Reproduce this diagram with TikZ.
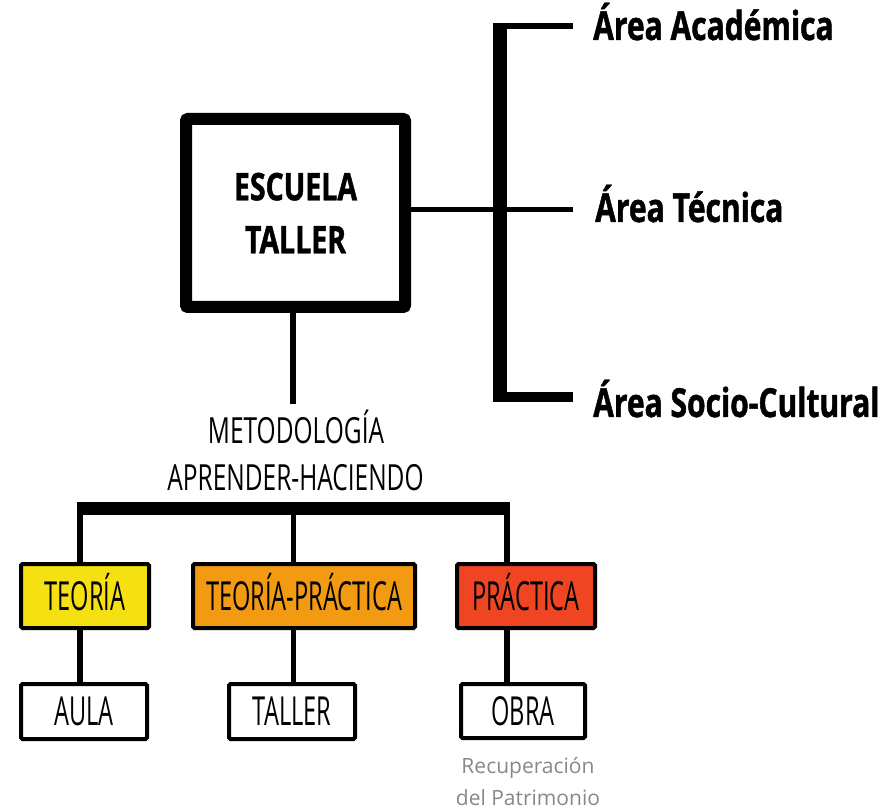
\documentclass[tikz,border=0pt]{standalone}
\usepackage{fontspec}
\setmainfont{Open Sans}
\newfontfamily\bcond[FakeStretch=0.75,FakeBold=1.2]{Open Sans}
\newfontfamily\rcondA[FakeStretch=0.68]{Open Sans}
\newfontfamily\rcondB[FakeStretch=0.59]{Open Sans}
\definecolor{cyel}{HTML}{F5E012}
\definecolor{corg}{HTML}{F29B12}
\definecolor{cred}{HTML}{EF4522}
\definecolor{cgray}{HTML}{888888}
\begin{document}
\begin{tikzpicture}[x=1pt,y=-1pt,
  area/.style={anchor=base west, inner sep=0, font=\bcond\bfseries\fontsize{40}{44}\selectfont},
  meto/.style={anchor=base, inner sep=0, font=\rcondA\fontsize{36}{40}\selectfont},
  catbox/.style={draw, line width=4, rounded corners=1.5, inner sep=0, text height=28pt, text depth=0pt,
     font=\rcondB\fontsize{40}{44}\selectfont},
  conn/.style={line width=5.5},
  gray/.style={anchor=base, inner sep=0, text=cgray, font=\fontsize{21}{24}\selectfont}]
\useasboundingbox (0,0) rectangle (892,810);

% main box
\node[draw, line width=12, rounded corners=2, minimum width=219, minimum height=188, inner sep=0,
  align=center, font=\bcond\bfseries\fontsize{38}{53}\selectfont] (esc) at (295.5,213) {ESCUELA\\TALLER};

% bracket
\coordinate (bTop) at (500,23);
\coordinate (bBot) at (500,402);
\coordinate (aEnd) at (573,26);
\coordinate (tEnd) at (573,210);
\coordinate (sEnd) at (573,397);
\draw[line width=14] (bTop) -- (bBot);
\draw[line width=6] (bTop |- aEnd) ++(-7,0) -- (aEnd);
\draw[line width=10] (bBot |- sEnd) ++(-7,0) -- (sEnd);
\draw[line width=5] (esc.east |- tEnd) -- (tEnd);

\node[area] (aa) at (593,40) {Área Académica};
\node[area] (at) at (595,222) {Área Técnica};
\node[area] (as) at (593,417) {Área Socio-Cultural};

% methodology
\coordinate (mt) at (293,404);
\draw[line width=6] (mt |- esc.south) -- (mt);
\node[meto] (m1) at (296,443) {METODOLOGÍA};
\node[meto] (m2) at (295.5,490) {APRENDER-HACIENDO};

\coordinate (barL) at (77,508.5);
\coordinate (barR) at (510,508.5);
\draw[line width=13] (barL) -- (barR);

% categories
\node[catbox, fill=cyel, minimum width=128, minimum height=64] (teo) at (85,596) {TEORÍA};
\node[catbox, fill=corg, minimum width=222, minimum height=64] (tp) at (304,596) {TEORÍA-PRÁCTICA};
\node[catbox, fill=cred, minimum width=138, minimum height=64] (pra) at (526,596) {PRÁCTICA};

\node[catbox, fill=white, minimum width=126, minimum height=55] (aula) at (84,711.5) {AULA};
\node[catbox, fill=white, minimum width=126, minimum height=55] (tal) at (292,711.5) {TALLER};
\node[catbox, fill=white, minimum width=124, minimum height=54] (obra) at (523,711) {OBRA};

\coordinate (c1) at (80,508);
\coordinate (c2) at (293.5,508);
\coordinate (c3) at (507,508);
\draw[conn] (c1) -- (c1 |- teo.north);
\draw[conn] (c2) -- (c2 |- tp.north);
\draw[conn] (c3) -- (c3 |- pra.north);
\draw[conn] (c1 |- teo.south) -- (c1 |- aula.north);
\draw[conn] (c2 |- tp.south) -- (c2 |- tal.north);
\draw[conn] (c3 |- pra.south) -- (c3 |- obra.north);

\node[gray] (r1) at (528,773) {Recuperación};
\node[gray] (r2) at (528,805) {del Patrimonio};
\end{tikzpicture}
\end{document}
